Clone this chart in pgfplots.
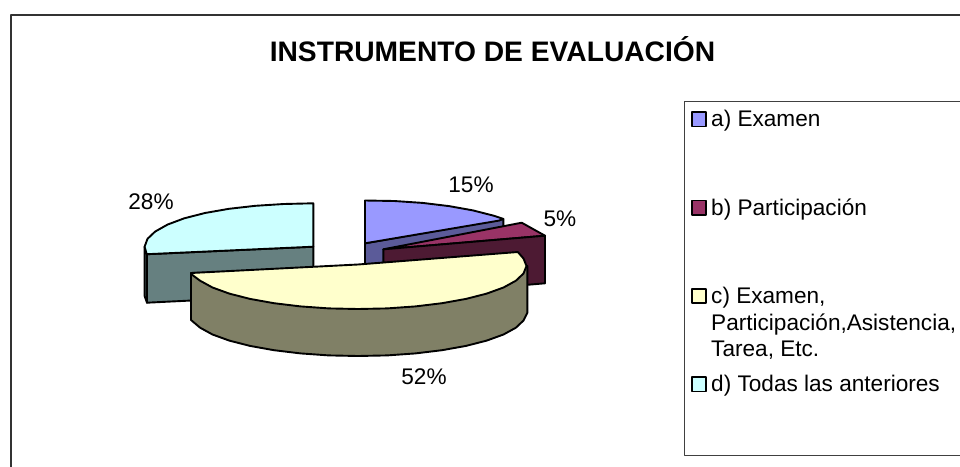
\documentclass[border=0pt]{standalone}
\usepackage{fontspec}
\setmainfont{Liberation Sans}
\usepackage{pgfplots}
\pgfplotsset{compat=1.18}
\definecolor{aT}{HTML}{9999FF}\definecolor{aS}{HTML}{5B5B99}
\definecolor{bT}{HTML}{993366}\definecolor{bS}{HTML}{4D1A33}
\definecolor{cT}{HTML}{FFFFCC}\definecolor{cS}{HTML}{808066}
\definecolor{dT}{HTML}{CCFFFF}\definecolor{dS}{HTML}{668080}
\newcommand{\lf}{\fontsize{22.6bp}{26.6bp}\selectfont}
\begin{document}
\begin{tikzpicture}
\begin{axis}[
  scale only axis, width=960bp, height=466bp,
  xmin=0, xmax=960, ymin=0, ymax=466, y dir=reverse,
  ticks=none, axis line style={draw=none},
  every axis plot/.append style={mark=none, line join=round},
  pie/.style={draw=black, line width=1.9bp},
]
% frame and legend box
\addplot[draw=black!80, line width=1.5bp] coordinates {(10.8,480) (10.8,14.8) (975,14.8)};
\addplot[draw=black!75, line width=1.0bp] coordinates {(975,101) (684.3,101) (684.3,455) (975,455)};
% d) side and top
\addplot[pie, fill=dS] coordinates {(147,254.2) (147,302.7) (313.3,294.5) (313.3,246.7)} -- cycle;
\addplot[pie, fill=dS] coordinates {(147,254.2) (144.6,246.7) (144.6,296) (147,302.7)} -- cycle;
\addplot[pie, fill=dT] coordinates {(313.3,246.7) (313.3,203.3) (283.8,204) (255.5,205.8) (229,208.8) (205,213) (184.3,218.3) (167.5,224.6) (155.1,231.6) (147.5,238.8) (144.6,246.7) (146.7,254.2)} -- cycle;
% a) side and top
\addplot[pie, fill=aS] coordinates {(365,243.3) (503.3,219) (503.3,268) (365,291)} -- cycle;
\addplot[pie, fill=aT] coordinates {(365,243.3) (365,200.5) (394.2,201) (422.5,202.9) (449,206.1) (473,210.4) (493.7,215.7) (503.3,218.9) (499,220.6)} -- cycle;
% b) top and side
\addplot[pie, fill=bT] coordinates {(383.3,249.3) (521.7,222.7) (545,235.7)} -- cycle;
\addplot[pie, fill=bS] coordinates {(383.3,249.3) (545,235.7) (545,283.3) (383.3,297)} -- cycle;
% c) side and top
\addplot[pie, fill=cS] coordinates {(527.3,266) (527.3,313) (523.5,320.5) (515.9,327.7) (503.5,334.5) (486.7,340.6) (466,345.9) (442,350.2) (415.5,353.4) (387.2,355.4) (358,356) (328.8,355.4) (300.5,353.4) (274,350.2) (250,345.9) (229.3,340.6) (212.5,334.5) (200.1,327.7) (191,320) (191,273)} -- cycle;
\addplot[pie, fill=cT] coordinates {(191,273) (358,264.5) (517.8,252) (523.5,258.5) (526.5,266) (523.5,273.5) (515.9,280.7) (503.5,287.5) (486.7,293.6) (466,298.9) (442,303.2) (415.5,306.4) (387.2,308.4) (358,309) (328.8,308.4) (300.5,306.4) (274,303.2) (250,298.9) (229.3,293.6) (212.5,287.5) (200.1,280.7) (192.5,275)} -- cycle;
% legend keys
\addplot[draw=black, line width=1.8bp, fill=aT] coordinates {(691.7,112) (706,112) (706,126.5) (691.7,126.5)} -- cycle;
\addplot[draw=black, line width=1.8bp, fill=bT] coordinates {(691.7,200.5) (706,200.5) (706,215) (691.7,215)} -- cycle;
\addplot[draw=black, line width=1.8bp, fill=cT] coordinates {(691.7,288.7) (706,288.7) (706,303.2) (691.7,303.2)} -- cycle;
\addplot[draw=black, line width=1.8bp, fill=dT] coordinates {(691.7,377) (706,377) (706,391.5) (691.7,391.5)} -- cycle;
% texts
\node[anchor=base, inner sep=0pt] at (axis cs:492.5,62) {\fontsize{28.2bp}{32bp}\selectfont\bfseries INSTRUMENTO DE EVALUACIÓN};
\node[anchor=base, inner sep=0pt] at (axis cs:471,192) {\lf 15\%};
\node[anchor=base, inner sep=0pt] at (axis cs:560,226) {\lf 5\%};
\node[anchor=base, inner sep=0pt] at (axis cs:424,384) {\lf 52\%};
\node[anchor=base, inner sep=0pt] at (axis cs:151,209) {\lf 28\%};
\node[anchor=base west, inner sep=0pt] at (axis cs:711,126.7) {\lf a) Examen};
\node[anchor=base west, inner sep=0pt] at (axis cs:711,215.3) {\lf b) Participación};
\node[anchor=base west, inner sep=0pt] at (axis cs:711,303.3) {\lf c) Examen,};
\node[anchor=base west, inner sep=0pt] at (axis cs:711,330) {\lf Participación,Asistencia,};
\node[anchor=base west, inner sep=0pt] at (axis cs:711,356.7) {\lf Tarea, Etc.};
\node[anchor=base west, inner sep=0pt] at (axis cs:711,391.7) {\lf d) Todas las anteriores};
\end{axis}
\end{tikzpicture}
\end{document}
